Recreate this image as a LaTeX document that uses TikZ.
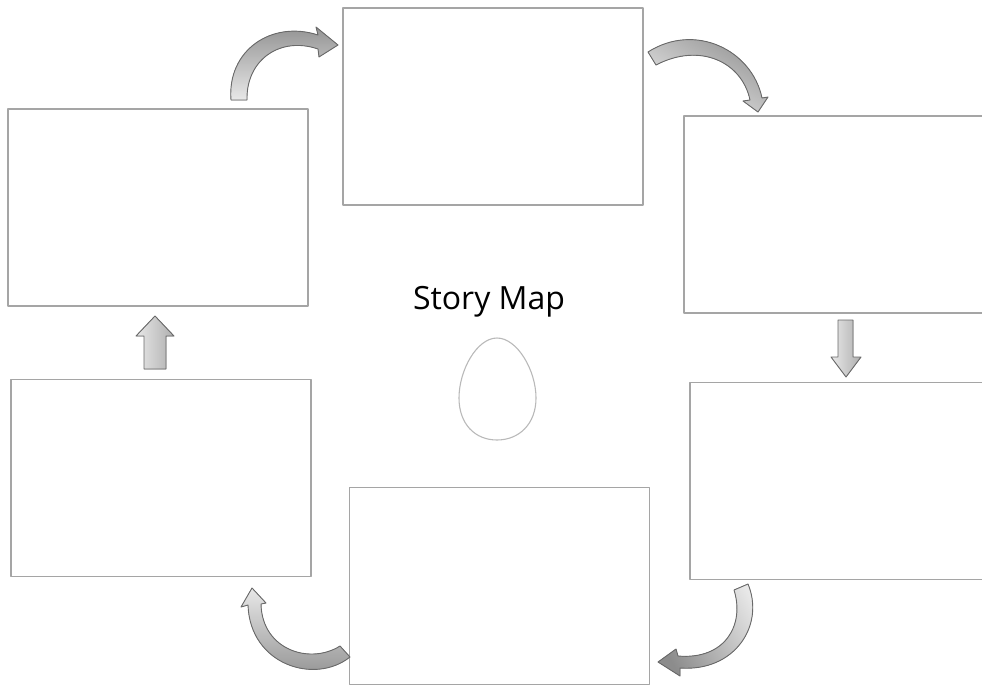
\documentclass[tikz,border=0pt]{standalone}
\usepackage{fontspec}
\setmainfont{Open Sans}
\usetikzlibrary{arrows.meta,positioning}
\definecolor{panelgray}{RGB}{165,165,165}
\definecolor{arrowdark}{RGB}{105,105,105}
\definecolor{arrowmid}{RGB}{140,140,140}
\definecolor{arrowlight}{RGB}{232,232,232}
\definecolor{egggray}{RGB}{185,185,185}

\begin{document}
\begin{tikzpicture}[x=1pt,y=-1pt,line cap=round,line join=round,
  panel/.style={draw=panelgray,line width=1.6pt,minimum width=300pt,minimum height=197pt,inner sep=0pt},
  bentarrow/.style={draw=arrowdark,line width=0.9pt,left color=arrowmid,right color=arrowlight,shading angle=#1},
  blockarrow/.style={draw=arrowdark,line width=0.9pt,left color=arrowlight,right color=arrowmid!70}]
\useasboundingbox (0,0) rectangle (982,688);
% Szesc pol mapy opowiadania.
\node[panel] (top) at (493,106.5) {};
\node[panel] (lefttop) at (158,207.5) {};
\node[panel] (righttop) at (834,214.5) {};
\node[panel] (leftbottom) at (161,478) {};
\node[panel] (rightbottom) at (840,481) {};
\node[panel] (bottom) at (499.5,586) {};
% Tytul i jajko w srodku.
\node[font=\fontsize{32}{38}\selectfont] (title) at (489,302) {Story Map};
\draw[egggray,line width=1.1pt]
 (497,338) .. controls (517,338) and (536,370) .. (536,398)
 .. controls (536,424) and (519,440) .. (497,440)
 .. controls (475,440) and (459,424) .. (459,398)
 .. controls (459,370) and (477,338) .. cycle;
% Zakrzywione strzalki miedzy polami.
\filldraw[bentarrow=0]
 (231,100) .. controls (227,50) and (272,20) .. (318,35)
 -- (316,27) -- (338,45) -- (319,57) -- (318,49)
 .. controls (280,36) and (246,60) .. (247,100) -- cycle;
\filldraw[bentarrow=-30]
 (648,52) .. controls (695,22) and (752,50) .. (762,98)
 -- (768,97) -- (758,112) -- (743,101) -- (750,100)
 .. controls (742,62) and (700,42) .. (656,65) -- cycle;
\filldraw[bentarrow=180]
 (350,657) .. controls (315,685) and (250,665) .. (248,605)
 -- (241,607) -- (252,588) -- (266,603) -- (261,604)
 .. controls (262,650) and (310,665) .. (340,646) -- cycle;
\filldraw[bentarrow=120]
 (748,584) .. controls (765,625) and (735,672) .. (680,668)
 -- (680,676) -- (658,662) -- (676,649) -- (678,656)
 .. controls (725,660) and (745,625) .. (734,590) -- cycle;
% Proste strzalki.
\filldraw[blockarrow]
 (838,320) -- (853,320) -- (853,357) -- (861,357) -- (846,377)
 -- (831,357) -- (838,357) -- cycle;
\filldraw[blockarrow]
 (144,369) -- (166,369) -- (166,336) -- (174,336) -- (155,316)
 -- (136,336) -- (144,336) -- cycle;
\end{tikzpicture}
\end{document}
